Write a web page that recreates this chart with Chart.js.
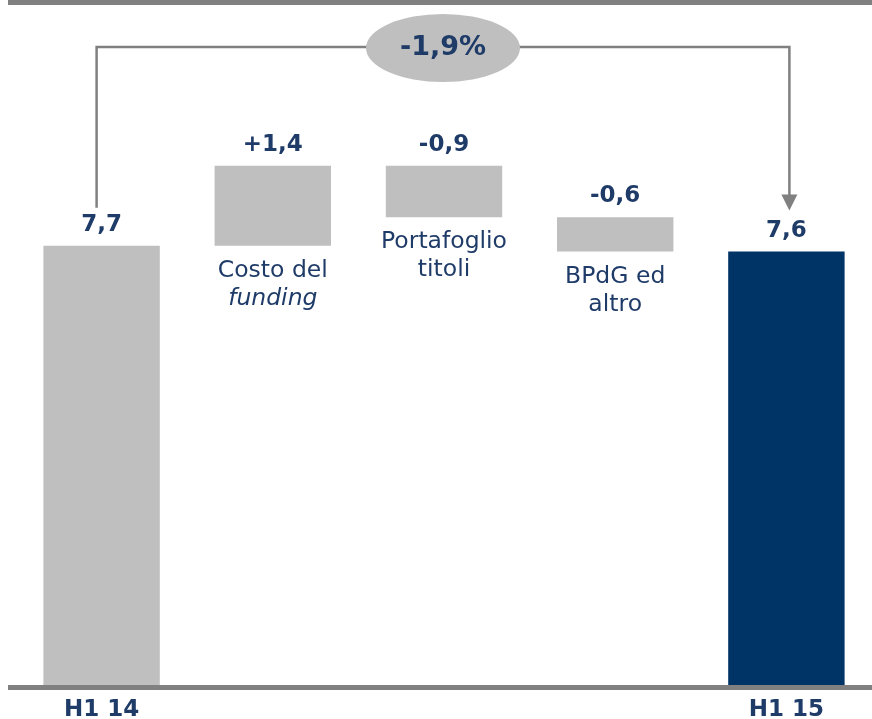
<!DOCTYPE html>
<html>
<head>
<meta charset="utf-8">
<script src="https://cdn.jsdelivr.net/npm/chart.js@4.4.1/dist/chart.umd.min.js"></script>
<style>
  html, body { margin: 0; padding: 0; background: #fff; }
  canvas { display: block; }
</style>
</head>
<body>
<canvas id="chart-nii-bridge" width="872" height="719"></canvas>
<script>
// data
const categories = [['H1 14'], ['Costo del', 'funding'], ['Portafoglio', 'titoli'], ['BPdG ed', 'altro'], ['H1 15']];
const isTotal = [true, false, false, false, true];
const values = [7.7, 1.4, -0.9, -0.6, 7.6];
const valueLabels = ['7,7', '+1,4', '-0,9', '-0,6', '7,6'];
const changeLabel = '-1,9%';
const italicWords = ['funding'];

const NAVY = '#1F3B68';
const GREY = '#BFBFBF';
const LINE = '#808080';
const SANS = '"DejaVu Sans", Verdana, sans-serif';

// floating bars: totals from zero, deltas from running sum
let running = 0;
const floats = values.map((v, i) => {
  if (isTotal[i]) { running = v; return [0, v]; }
  const start = running;
  running = +(running + v).toFixed(4);
  return [start, running];
});

const bridgePlugin = {
  id: 'bridge',
  afterDatasetsDraw(chart) {
    const ctx = chart.ctx;
    const bars = chart.getDatasetMeta(0).data;
    const y0 = chart.scales.y.getPixelForValue(0);
    ctx.save();

    // frame lines top and bottom
    ctx.fillStyle = LINE;
    ctx.fillRect(8, 0, chart.width - 8, 5);
    ctx.fillRect(8, y0 - 1, chart.width - 8, 5);

    // value labels above, category names below the floating bars
    ctx.textAlign = 'center';
    ctx.textBaseline = 'middle';
    bars.forEach((bar, i) => {
      const top = Math.min(bar.y, bar.base);
      const bottom = Math.max(bar.y, bar.base);
      ctx.fillStyle = NAVY;
      ctx.font = 'bold 23px ' + SANS;
      ctx.fillText(valueLabels[i], bar.x, top - 21);
      if (!isTotal[i]) {
        categories[i].forEach((line, k) => {
          const it = italicWords.includes(line) ? 'italic ' : '';
          ctx.font = it + '23.5px ' + SANS;
          ctx.fillText(line, bar.x, bottom + 25 + k * 28);
        });
      }
    });

    // connector with arrow from first to last total
    const first = bars[0], last = bars[bars.length - 1];
    const xl = first.x - 5, xr = last.x + 3, yTop = 47;
    const yStart = first.y - 38, yTip = last.y - 41;
    ctx.strokeStyle = LINE;
    ctx.lineWidth = 2.5;
    ctx.beginPath();
    ctx.moveTo(xl, yStart);
    ctx.lineTo(xl, yTop);
    ctx.lineTo(xr, yTop);
    ctx.lineTo(xr, yTip - 15);
    ctx.stroke();
    ctx.fillStyle = LINE;
    ctx.beginPath();
    ctx.moveTo(xr - 8, yTip - 16);
    ctx.lineTo(xr + 8, yTip - 16);
    ctx.lineTo(xr, yTip);
    ctx.closePath();
    ctx.fill();

    // ellipse with change
    const cx = (xl + xr) / 2;
    ctx.fillStyle = GREY;
    ctx.beginPath();
    ctx.ellipse(cx, 48, 77, 34, 0, 0, Math.PI * 2);
    ctx.fill();
    ctx.fillStyle = NAVY;
    ctx.font = 'bold 27px ' + SANS;
    ctx.fillText(changeLabel, cx, 48);

    ctx.restore();
  }
};

new Chart(document.getElementById('chart-nii-bridge'), {
  type: 'bar',
  plugins: [bridgePlugin],
  data: {
    labels: categories.map(c => c.join(' ')),
    datasets: [{
      data: floats,
      backgroundColor: isTotal.map((t, i) => (t && i === values.length - 1) ? '#003366' : GREY),
      borderWidth: 0,
      borderSkipped: false,
      categoryPercentage: 1,
      barPercentage: 0.68,
    }],
  },
  options: {
    responsive: false,
    animation: false,
    devicePixelRatio: 1,
    layout: { padding: { left: 16, right: 0, top: 0, bottom: 0 } },
    plugins: { legend: { display: false }, tooltip: { enabled: false } },
    scales: {
      x: {
        grid: { display: false, drawTicks: false },
        border: { display: false },
        afterFit: (scale) => { scale.height = 33; },
        ticks: {
          autoSkip: false,
          maxRotation: 0,
          padding: 10,
          color: NAVY,
          font: { family: SANS, size: 23, weight: 'bold' },
          callback: (v, i) => isTotal[i] ? categories[i][0] : '',
        },
      },
      y: { display: false, min: 0, max: 12 },
    },
  },
});
</script>
</body>
</html>
